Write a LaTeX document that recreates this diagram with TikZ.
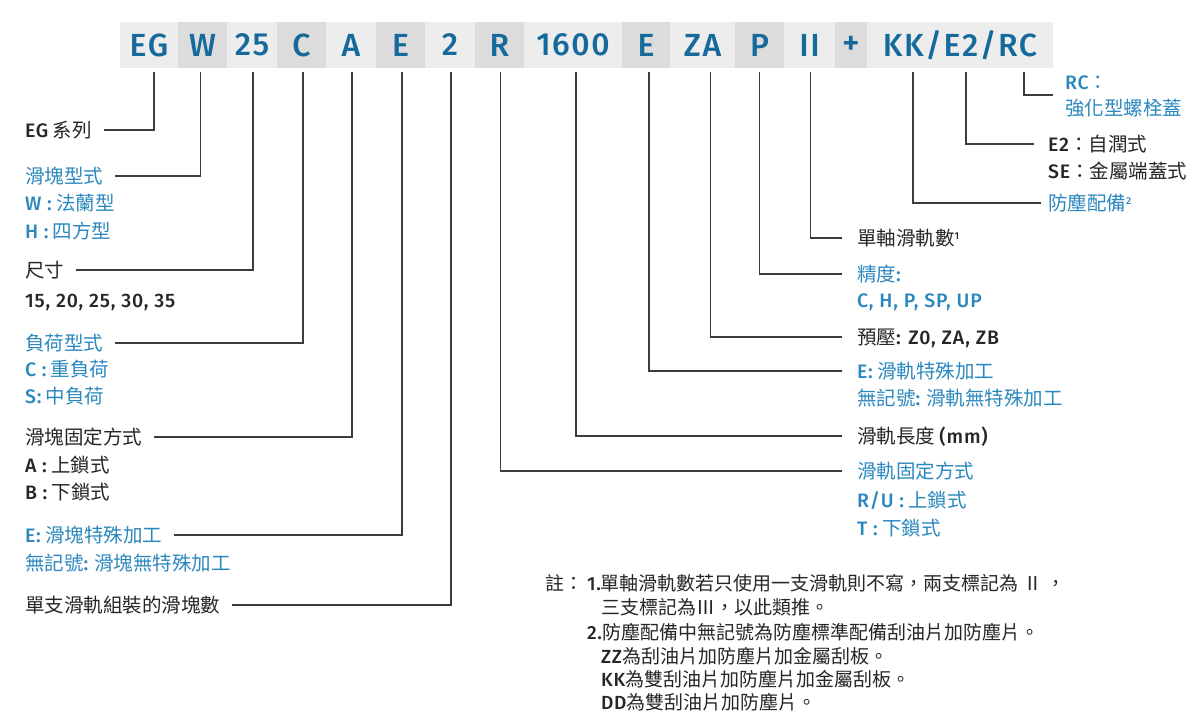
\documentclass[tikz,border=0pt]{standalone}
\usepackage{fontspec}
\usetikzlibrary{calc}
\setmainfont{Noto Sans CJK TC}
\newfontfamily\lat{Fira Sans Medium}
\definecolor{codeblue}{HTML}{15699B}
\definecolor{lblue}{HTML}{2B88BE}
\definecolor{txtc}{HTML}{262626}
\definecolor{boxA}{HTML}{EDEDED}
\definecolor{boxB}{HTML}{DCDCDC}
\definecolor{lncol}{HTML}{3C3C3C}
\newcommand\cdfont{\lat\fontsize{32bp}{32bp}\selectfont\addfontfeatures{LetterSpace=5}}
\newcommand\lbfont{\fontsize{19.5bp}{24bp}\selectfont}
\newcommand\ntfont{\fontsize{19bp}{24bp}\selectfont}
\newcommand\LB[1]{{\lat\addfontfeatures{LetterSpace=4.5}#1}}
\newcommand\SUP[1]{\raisebox{6bp}{\lat\fontsize{10bp}{10bp}\selectfont #1}}
\tikzset{
  codebox/.style={anchor=north west, minimum height=46bp, inner sep=0pt, outer sep=0pt, font=\cdfont, text=codeblue},
  lbl/.style={anchor=west, inner sep=0pt, outer sep=0pt, font=\lbfont, text height=14.4bp, text depth=0pt},
  lblk/.style={lbl, text=txtc},
  lblu/.style={lbl, text=lblue},
  note/.style={anchor=west, inner sep=0pt, outer sep=0pt, font=\ntfont, text=txtc, text height=14pt, text depth=0pt},
  conn/.style={draw=lncol, line width=1.3bp}
}
\begin{document}
\begin{tikzpicture}[x=1bp,y=-1bp]
\fill[white] (0,0) rectangle (1201,725);
\useasboundingbox (0,0) rectangle (1201,725);
% code bar
\node[codebox, fill=boxA, minimum width=58bp] (bEG) at (120,22) {EG};
\node[codebox, fill=boxB, minimum width=49bp] (bW) at (178,22) {W};
\node[codebox, fill=boxA, minimum width=50bp] (b25) at (227,22) {25};
\node[codebox, fill=boxB, minimum width=49bp] (bC) at (277,22) {C};
\node[codebox, fill=boxA, minimum width=50bp] (bA) at (326,22) {A};
\node[codebox, fill=boxB, minimum width=49bp] (bE) at (376,22) {E};
\node[codebox, fill=boxA, minimum width=50bp] (b2) at (425,22) {2};
\node[codebox, fill=boxB, minimum width=49bp] (bR) at (475,22) {R};
\node[codebox, fill=boxA, minimum width=98bp] (bL) at (524,22) {1600};
\node[codebox, fill=boxB, minimum width=48bp] (bER) at (622,22) {E};
\node[codebox, fill=boxA, minimum width=65bp] (bZA) at (670,22) {ZA};
\node[codebox, fill=boxB, minimum width=49bp] (bP) at (735,22) {P};
\node[codebox, fill=boxA, minimum width=51bp] (bII) at (784,22) {II};
\node[codebox, fill=boxB, minimum width=32bp] (bPl) at (835,22) {\fontsize{34bp}{34bp}\selectfont\addfontfeatures{LetterSpace=0}+};
\node[codebox, fill=boxA, minimum width=186bp] (bKK) at (867,22) {KK/E2/RC};
% left labels
\node[lblk] (lEG) at (25,130) {\LB{EG} 系列};
\node[lblu] (lW) at (25,176) {滑塊型式};
\node[lblu] (lW1) at (25,203) {\LB{W :} 法蘭型};
\node[lblu] (lW2) at (25,231) {\LB{H :} 四方型};
\node[lblk] (lS) at (25,270) {尺寸};
\node[lblk] (lS1) at (25,300) {\LB{15, 20, 25, 30, 35}};
\node[lblu] (lC) at (25,343) {負荷型式};
\node[lblu] (lC1) at (25,369) {\LB{C :} 重負荷};
\node[lblu] (lC2) at (25,396) {\LB{S:} 中負荷};
\node[lblk] (lA) at (25,437) {滑塊固定方式};
\node[lblk] (lA1) at (25,465) {\LB{A :} 上鎖式};
\node[lblk] (lA2) at (25,492) {\LB{B :} 下鎖式};
\node[lblu] (lE) at (25,535) {\LB{E:} 滑塊特殊加工};
\node[lblu] (lE1) at (25,563) {無記號\LB{:} 滑塊無特殊加工};
\node[lblk] (l2) at (25,605) {單支滑軌組裝的滑塊數};
% right labels
\node[lblk] (rII) at (857,238) {單軸滑軌數\SUP{1}};
\node[lblu] (rP) at (857,274) {精度\LB{:}};
\node[lblu] (rP1) at (857,300) {\LB{C, H, P, SP, UP}};
\node[lblk] (rZA) at (857,337) {預壓\LB{: Z0, ZA, ZB}};
\node[lblu] (rE) at (857,371) {\LB{E:} 滑軌特殊加工};
\node[lblu] (rE1) at (857,398) {無記號\LB{:} 滑軌無特殊加工};
\node[lblk] (rL) at (857,436) {滑軌長度 \LB{(mm)}};
\node[lblu] (rR) at (857,471) {滑軌固定方式};
\node[lblu] (rR1) at (857,500) {\LB{R/U :} 上鎖式};
\node[lblu] (rR2) at (857,528) {\LB{T :} 下鎖式};
% top right labels
\node[lblu] (lRC1) at (1065,82) {\LB{RC}：};
\node[lblu] (lRC2) at (1065,108) {強化型螺栓蓋};
\node[lblk] (lE2) at (1048,144) {\LB{E2}：自潤式};
\node[lblk] (lSE) at (1048,171) {\LB{SE}：金屬端蓋式};
\node[lblu] (lKK) at (1048,203) {防塵配備\SUP{2}};
% notes
\node[note] (n0) at (545,584) {註：};
\node[note] (n1) at (587,584) {\LB{1.}單軸滑軌數若只使用一支滑軌則不寫，兩支標記為 Ⅱ ，};
\node[note] (n2) at (601,608) {三支標記為Ⅲ，以此類推。};
\node[note] (n3) at (587,633) {\LB{2.}防塵配備中無記號為防塵標準配備刮油片加防塵片。};
\node[note] (n4) at (601,657) {\LB{ZZ}為刮油片加防塵片加金屬刮板。};
\node[note] (n5) at (601,680) {\LB{KK}為雙刮油片加防塵片加金屬刮板。};
\node[note] (n6) at (601,703) {\LB{DD}為雙刮油片加防塵片。};
% connectors left
\draw[conn] ([xshift=5bp,yshift=-4bp]bEG.south) |- ([xshift=12bp]lEG.east);
\draw[conn] ([xshift=-2bp,yshift=-4bp]bW.south) |- ([xshift=12bp]lW.east);
\draw[conn] ([xshift=1bp,yshift=-4bp]b25.south) |- ([xshift=12bp]lS.east);
\draw[conn] ([xshift=1.5bp,yshift=-4bp]bC.south) |- ([xshift=12bp]lC.east);
\draw[conn] ([xshift=1bp,yshift=-4bp]bA.south) |- ([xshift=12bp]lA.east);
\draw[conn] ([xshift=1.5bp,yshift=-4bp]bE.south) |- ([xshift=12bp]lE.east);
\draw[conn] ([xshift=1bp,yshift=-4bp]b2.south) |- ([xshift=12bp]l2.east);
% connectors right
\draw[conn] ([xshift=1bp,yshift=-4bp]bR.south) |- ([xshift=-15bp]rR.west);
\draw[conn] ([xshift=3bp,yshift=-4bp]bL.south) |- ([xshift=-15bp]rL.west);
\draw[conn] ([xshift=3bp,yshift=-4bp]bER.south) |- ([xshift=-15bp]rE.west);
\draw[conn] ([xshift=8bp,yshift=-4bp]bZA.south) |- ([xshift=-15bp]rZA.west);
\draw[conn] ([xshift=0bp,yshift=-4bp]bP.south) |- ([xshift=-15bp]rP.west);
\draw[conn] ([xshift=1bp,yshift=-4bp]bII.south) |- ([xshift=-15bp]rII.west);
\draw[conn] ([xshift=-47bp,yshift=-4bp]bKK.south) |- ([xshift=-7bp]lKK.west);
\draw[conn] ([xshift=6bp,yshift=-4bp]bKK.south) |- ([xshift=-14bp]lE2.west);
\draw[conn] ([xshift=64bp,yshift=-4bp]bKK.south) |- ($(lRC1.west)!0.5!(lRC2.west)+(-12,0)$);
\end{tikzpicture}
\end{document}
